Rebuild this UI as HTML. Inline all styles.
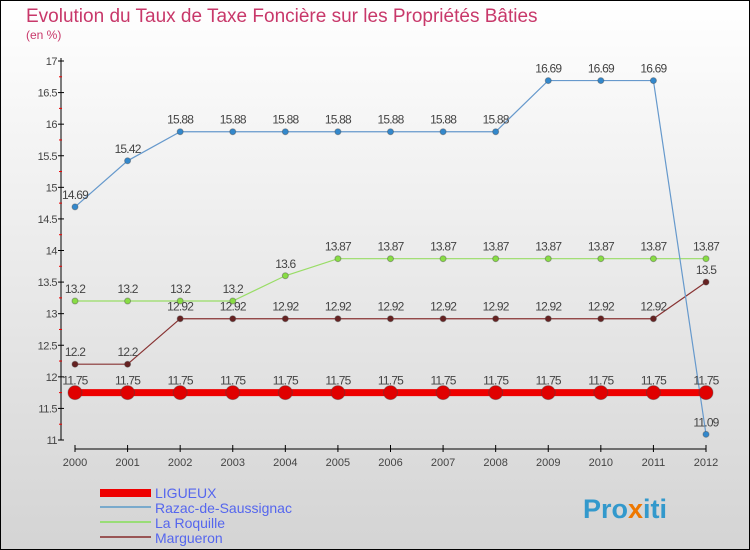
<!DOCTYPE html>
<html><head><meta charset="utf-8"><style>
body{margin:0}
#c{width:750px;height:550px;position:relative;overflow:hidden}
svg text{font-family:"Liberation Sans",sans-serif}
</style></head><body>
<div id="c">
<svg id="s" width="750" height="550" xmlns="http://www.w3.org/2000/svg">
<defs><linearGradient id="bg" x1="0" y1="0" x2="0" y2="1"><stop offset="0" stop-color="#ffffff"/><stop offset="1" stop-color="#d4d4d4"/></linearGradient></defs>
<rect x="0.5" y="0.5" width="749" height="549" fill="url(#bg)" stroke="#000"/>
<text x="26" y="22" font-size="19" fill="#c8386a">Evolution du Taux de Taxe Foncière sur les Propriétés Bâties</text>
<text x="26" y="39" font-size="12" fill="#c8386a">(en %)</text>
<g id="axes"></g><g id="series"></g>
<g>
<rect x="100" y="489" width="51" height="8" fill="#e00"/>
<text x="155" y="498" font-size="14" fill="#5566ee">LIGUEUX</text>
<rect x="100" y="506" width="51" height="2" fill="#7aaacc"/>
<text x="155" y="513" font-size="14" fill="#5566ee">Razac-de-Saussignac</text>
<rect x="100" y="521" width="51" height="2" fill="#99dd77"/>
<text x="155" y="528" font-size="14" fill="#5566ee">La Roquille</text>
<rect x="100" y="536" width="51" height="2" fill="#995555"/>
<text x="155" y="543" font-size="14" fill="#5566ee">Margueron</text>
</g>
<text x="583" y="518" font-size="27" font-weight="bold" fill="#3399cc">Pro<tspan fill="#ee7700">x</tspan>iti</text>
</svg></div>
<script>
const years=[2000,2001,2002,2003,2004,2005,2006,2007,2008,2009,2010,2011,2012];
const yTicks=[11,11.5,12,12.5,13,13.5,14,14.5,15,15.5,16,16.5,17];
const ligueux=[11.75,11.75,11.75,11.75,11.75,11.75,11.75,11.75,11.75,11.75,11.75,11.75,11.75];
const razac=[14.69,15.42,15.88,15.88,15.88,15.88,15.88,15.88,15.88,16.69,16.69,16.69,11.09];
const roquille=[13.2,13.2,13.2,13.2,13.6,13.87,13.87,13.87,13.87,13.87,13.87,13.87,13.87];
const margueron=[12.2,12.2,12.92,12.92,12.92,12.92,12.92,12.92,12.92,12.92,12.92,12.92,13.5];
const NS="http://www.w3.org/2000/svg";
const X=i=>75+i*(706-75)/(years.length-1);
const Y=v=>440-(v-11)*(440-61)/6;
function mk(tag,at,parent,txt){const e=document.createElementNS(NS,tag);for(const k in at)e.setAttribute(k,at[k]);if(txt!==undefined)e.textContent=txt;parent.appendChild(e);return e;}
const ax=document.getElementById('axes');
let e=mk('line',{x1:61,y1:58,x2:61,y2:440,stroke:'#000'},ax);


e=mk('line',{x1:75,y1:449,x2:706,y2:449,stroke:'#000'},ax);


yTicks.forEach((t,i)=>{const y=Y(t);mk('line',{x1:58,y1:y,x2:64,y2:y,stroke:'#000'},ax);
 if(i<yTicks.length-1)mk('line',{x1:59,y1:Y(t+0.25),x2:62,y2:Y(t+0.25),stroke:'#e00'},ax);
 e=mk('text',{x:57,y:y+4,'font-size':11,'text-anchor':'end',fill:'#444','letter-spacing':'-0.5'},ax,String(t));
 
 });
years.forEach((yr,i)=>{mk('line',{x1:X(i),y1:445,x2:X(i),y2:452,stroke:'#000'},ax);
 e=mk('text',{x:X(i),y:466,'font-size':11,'text-anchor':'middle',fill:'#444'},ax,String(yr));
 
 });
const sg=document.getElementById('series');
function series(name,data,color,dot,w,r){const g=mk('g',{},sg);
 
 
 mk('polyline',{points:data.map((v,i)=>X(i)+','+Y(v)).join(' '),fill:'none',stroke:color,'stroke-width':w},g);
 data.forEach((v,i)=>{const c=mk('circle',{cx:X(i),cy:Y(v),r:r,fill:dot,stroke:'#444','stroke-opacity':0.4},g);
  
  
  const t=mk('text',{x:X(i),y:Y(v)-8,'font-size':12,'text-anchor':'middle',fill:'#444','letter-spacing':'-0.8'},g,String(v));
  
  });}
series('margueron',margueron,'#883333','#662222',1.2,3);
series('roquille',roquille,'#99dd66','#88dd44',1.2,3);
series('razac',razac,'#6699cc','#3388cc',1.2,3);
series('ligueux',ligueux,'#ee0000','#e00000',7,7);
</script>
</body></html>
